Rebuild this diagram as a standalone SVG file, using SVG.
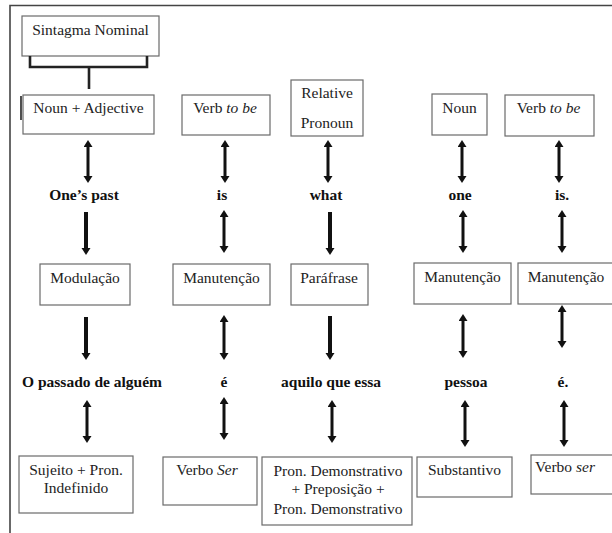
<svg xmlns="http://www.w3.org/2000/svg" width="612" height="533" viewBox="0 0 612 533">
  <style>
    .box { fill: #fff; stroke: #6a6a6a; stroke-width: 1.2; }
    .t { font-family: 'Liberation Serif', Tinos, 'Times New Roman', 'DejaVu Serif', serif; font-size: 15.5px; fill: #222; text-anchor: middle; }
    .b { font-weight: bold; fill: #111; }
    .frame { stroke: #444; stroke-width: 1.6; fill: none; }
    .dbl { stroke: #111; stroke-width: 3; fill: none; marker-start: url(#head); marker-end: url(#head); }
    .one { stroke: #111; stroke-width: 4; fill: none; marker-end: url(#headW); }
    .brk { stroke: #222; stroke-width: 2.6; fill: none; }
  </style>
  <defs>
    <marker id="head" markerUnits="userSpaceOnUse" markerWidth="8" markerHeight="10" refX="1" refY="4.5" orient="auto-start-reverse">
      <path d="M0,0 L7,4.5 L0,9 Z" fill="#111"/>
    </marker>
    <marker id="headW" markerUnits="userSpaceOnUse" markerWidth="8" markerHeight="10" refX="1" refY="4.5" orient="auto">
      <path d="M0,0 L7,4.5 L0,9 Z" fill="#111"/>
    </marker>
  </defs>

  <rect width="612" height="533" fill="#fff"/>
  <!-- page frame -->
  <path class="frame" d="M10,533 V5.5 H612"/>

  <!-- top heading with its bracket -->
  <g id="sintagma">
    <rect class="box" x="22" y="16" width="137" height="40"/>
    <text class="t" x="90.5" y="35" font-family="Liberation Serif, serif">Sintagma Nominal</text>
  </g>

  <!-- row 1: English source categories -->
  <g id="noun-adj">
    <rect class="box" x="23" y="95" width="131" height="39"/>
    <line x1="21" y1="96" x2="21" y2="120" stroke="#222" stroke-width="1.6"/>
    <text class="t" x="88.5" y="113">Noun + Adjective</text>
  </g>
  <g id="verb1">
    <rect class="box" x="182" y="95" width="88" height="40"/>
    <text class="t" x="225" y="113">Verb <tspan font-style="italic">to be</tspan></text>
  </g>
  <g id="relpron">
    <rect class="box" x="291" y="80" width="72" height="56"/>
    <text class="t" x="327" y="98">Relative</text>
    <text class="t" x="327" y="128">Pronoun</text>
  </g>
  <g id="noun">
    <rect class="box" x="432" y="94" width="55" height="41"/>
    <text class="t" x="459.5" y="113">Noun</text>
  </g>
  <g id="verb2">
    <rect class="box" x="505" y="95" width="89" height="41"/>
    <text class="t" x="548.5" y="113">Verb <tspan font-style="italic">to be</tspan></text>
  </g>

  <!-- row 2: English words -->
  <g id="w-onespast"><text class="t b" x="84" y="200">One’s past</text></g>
  <g id="w-is"><text class="t b" x="222" y="200">is</text></g>
  <g id="w-what"><text class="t b" x="326" y="200">what</text></g>
  <g id="w-one"><text class="t b" x="460" y="200">one</text></g>
  <g id="w-is2"><text class="t b" x="562" y="200">is.</text></g>

  <!-- row 3: procedures -->
  <g id="modulacao">
    <rect class="box" x="40" y="264" width="90" height="41"/>
    <text class="t" x="85" y="283">Modulação</text>
  </g>
  <g id="manut1">
    <rect class="box" x="173" y="264" width="97" height="41"/>
    <text class="t" x="221.5" y="283">Manutenção</text>
  </g>
  <g id="parafrase">
    <rect class="box" x="291" y="264" width="77" height="41"/>
    <text class="t" x="329" y="283">Paráfrase</text>
  </g>
  <g id="manut2">
    <rect class="box" x="414" y="263" width="97" height="41"/>
    <text class="t" x="462.5" y="282">Manutenção</text>
  </g>
  <g id="manut3">
    <rect class="box" x="518" y="263" width="100" height="41"/>
    <text class="t" x="566" y="282">Manutenção</text>
  </g>

  <!-- row 4: Portuguese words -->
  <g id="w-passado"><text class="t b" x="92" y="387">O passado de alguém</text></g>
  <g id="w-e"><text class="t b" x="224" y="387">é</text></g>
  <g id="w-aquilo"><text class="t b" x="331" y="387">aquilo que essa</text></g>
  <g id="w-pessoa"><text class="t b" x="466" y="387">pessoa</text></g>
  <g id="w-e2"><text class="t b" x="563" y="387">é.</text></g>

  <!-- row 5: Portuguese target categories -->
  <g id="sujeito">
    <rect class="box" x="19" y="456" width="114" height="57"/>
    <text class="t" x="76" y="475">Sujeito + Pron.</text>
    <text class="t" x="76" y="493">Indefinido</text>
  </g>
  <g id="verbo-ser">
    <rect class="box" x="163" y="457" width="94" height="48"/>
    <text class="t" x="207" y="475">Verbo <tspan font-style="italic">Ser</tspan></text>
  </g>
  <g id="pron-dem">
    <rect class="box" x="262" y="457" width="150" height="68"/>
    <text class="t" x="338" y="476">Pron. Demonstrativo</text>
    <text class="t" x="338" y="494">+ Preposição +</text>
    <text class="t" x="338" y="514">Pron. Demonstrativo</text>
  </g>
  <g id="substantivo">
    <rect class="box" x="417" y="457" width="95" height="40"/>
    <text class="t" x="464.5" y="475">Substantivo</text>
  </g>
  <g id="verbo-ser2">
    <rect class="box" x="531" y="455" width="90" height="39"/>
    <text class="t" x="565" y="472">Verbo <tspan font-style="italic">ser</tspan></text>
  </g>

  <!-- connectors -->
  <g id="connectors">
    <!-- bracket joining the heading to Noun + Adjective -->
    <path class="brk" d="M30,56 V67 H147 V56 M89,67 V89"/>

    <!-- row 1 ↔ row 2 -->
    <line class="dbl" x1="88" y1="146" x2="88" y2="177"/>
    <line class="dbl" x1="225" y1="146" x2="225" y2="177"/>
    <line class="dbl" x1="328" y1="146" x2="328" y2="177"/>
    <line class="dbl" x1="462" y1="146" x2="462" y2="177"/>
    <line class="dbl" x1="559" y1="146" x2="559" y2="177"/>

    <!-- row 2 → row 3 -->
    <line class="one" x1="86" y1="212" x2="86" y2="249"/>
    <line class="dbl" x1="224" y1="216" x2="224" y2="247"/>
    <line class="one" x1="330" y1="212" x2="330" y2="249"/>
    <line class="dbl" x1="463" y1="216" x2="463" y2="247"/>
    <line class="dbl" x1="562" y1="216" x2="562" y2="247"/>

    <!-- row 3 → row 4 -->
    <line class="one" x1="86" y1="317" x2="86" y2="354"/>
    <line class="dbl" x1="224" y1="321" x2="224" y2="354"/>
    <line class="one" x1="330" y1="316" x2="330" y2="354"/>
    <line class="dbl" x1="463" y1="320" x2="463" y2="352"/>
    <line class="dbl" x1="562" y1="311" x2="562" y2="342"/>

    <!-- row 4 ↔ row 5 -->
    <line class="dbl" x1="87" y1="406" x2="87" y2="437"/>
    <line class="dbl" x1="224" y1="403" x2="224" y2="434"/>
    <line class="dbl" x1="332" y1="406" x2="332" y2="437"/>
    <line class="dbl" x1="465" y1="406" x2="465" y2="441"/>
    <line class="dbl" x1="564" y1="406" x2="564" y2="441"/>
  </g>
</svg>
